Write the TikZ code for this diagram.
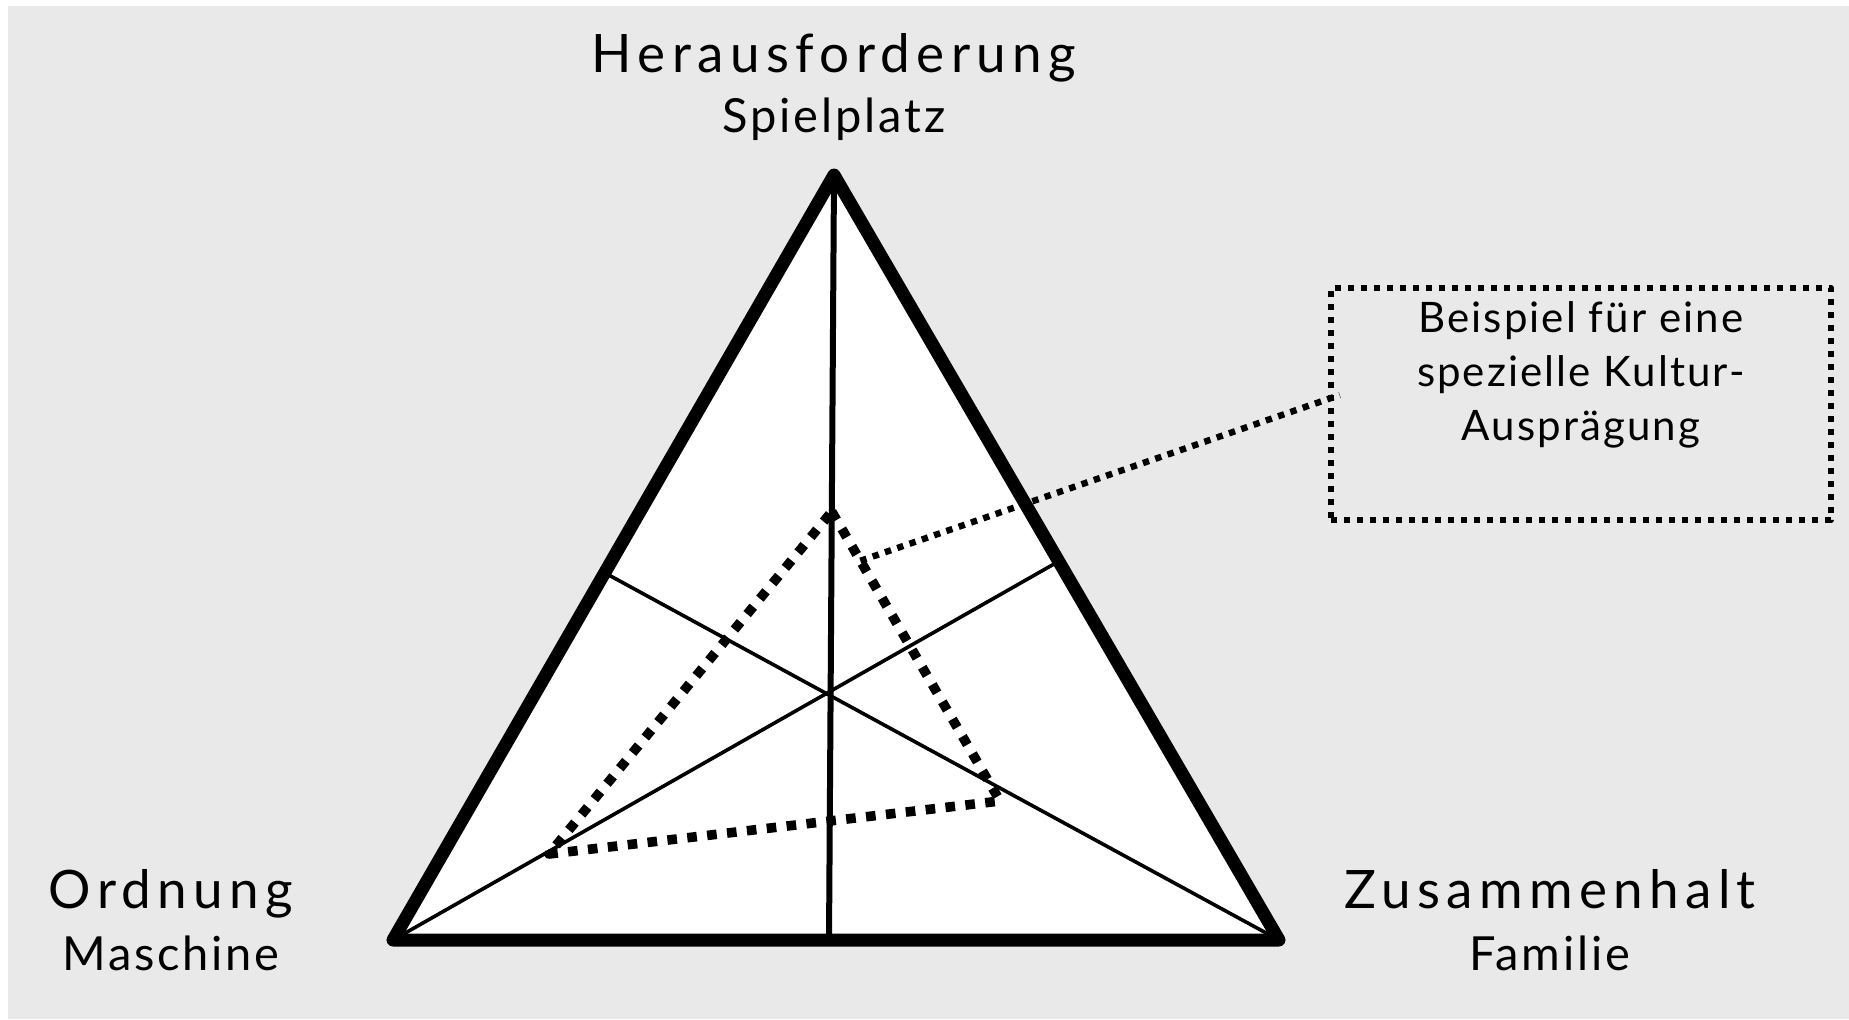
\documentclass[tikz,border=0pt]{standalone}
\usepackage{fontspec}
\setmainfont{Lato}
\usepackage{xcolor}
\usetikzlibrary{calc, positioning}
\definecolor{panelgray}{RGB}{233,233,233}
\tikzstyle{pole}=[anchor=base, inner sep=0pt, font=\fontsize{26.5pt}{30pt}\selectfont\addfontfeatures{LetterSpace=12}]
\tikzstyle{polesub}=[anchor=base, inner sep=0pt, font=\fontsize{23.5pt}{27pt}\selectfont\addfontfeatures{LetterSpace=6}]
\tikzstyle{notetext}=[align=center, inner sep=0pt, font=\fontsize{21pt}{27pt}\selectfont\addfontfeatures{LetterSpace=5}]
\tikzstyle{median}=[line width=1.8pt]
\tikzstyle{profile}=[line width=4.8pt, dash pattern=on 4.8pt off 5.2pt]
\tikzstyle{hint}=[line width=3.2pt, dash pattern=on 3.2pt off 3.3pt]

\begin{document}
\begin{tikzpicture}[x=0.5pt, y=-0.5pt]

\tikzset{every path/.style={line join=round}}

\useasboundingbox (0,0) rectangle (1849,1019);
\fill[white] (0,0) rectangle (1849,1019);
\fill[panelgray] (8,6) rectangle (1849,1019);

% corners of the triangle
\coordinate (top) at (834,175);
\coordinate (left) at (393,940);
\coordinate (right) at (1279,940);
\coordinate (foot) at (829,940);
\coordinate (lmid) at ($(top)!0.52!(left)$);
\coordinate (rmid) at ($(top)!0.505!(right)$);

\filldraw[fill=white, line width=6.5pt] (top) -- (left) -- (right) -- cycle;
\draw[line width=3pt] (top) -- (foot); % top -> base
\draw[median] (left) -- (rmid); % Ordnung -> right side
\draw[median] (right) -- (lmid); % Zusammenhalt -> left side

% one culture profile
\coordinate (pA) at ($(top)!0.44!(foot)$);
\coordinate (pB) at (1000,801);
\coordinate (pC) at (549,854);
\draw[profile] (pA) -- (pB) -- (pC) -- cycle;

% note box
\node[draw, hint, minimum width=250pt, minimum height=116pt, inner sep=0pt] (note) at (1581,404) {};
\node[notetext, below=8pt of note.north] (notetext) {Beispiel für eine\\spezielle Kultur-\\Ausprägung};
\coordinate (lead) at ($(pA)!0.17!(pB)$);
\draw[hint] (lead) -- ([shift={(6pt,4.5pt)}]note.west); % profile -> note

% the three poles
\node[pole] (heraus) at (834,72) {Herausforderung};
\node[polesub, below=30pt of heraus.base, anchor=base] (spiel) {Spielplatz};
\node[pole] (ordnung) at (171,908) {Ordnung};
\node[polesub, below=31pt of ordnung.base, anchor=base] (maschine) {Maschine};
\node[pole] (zusammen) at (1550,908) {Zusammenhalt};
\node[polesub, below=31pt of zusammen.base, anchor=base] (familie) {Familie};

\end{tikzpicture}
\end{document}
